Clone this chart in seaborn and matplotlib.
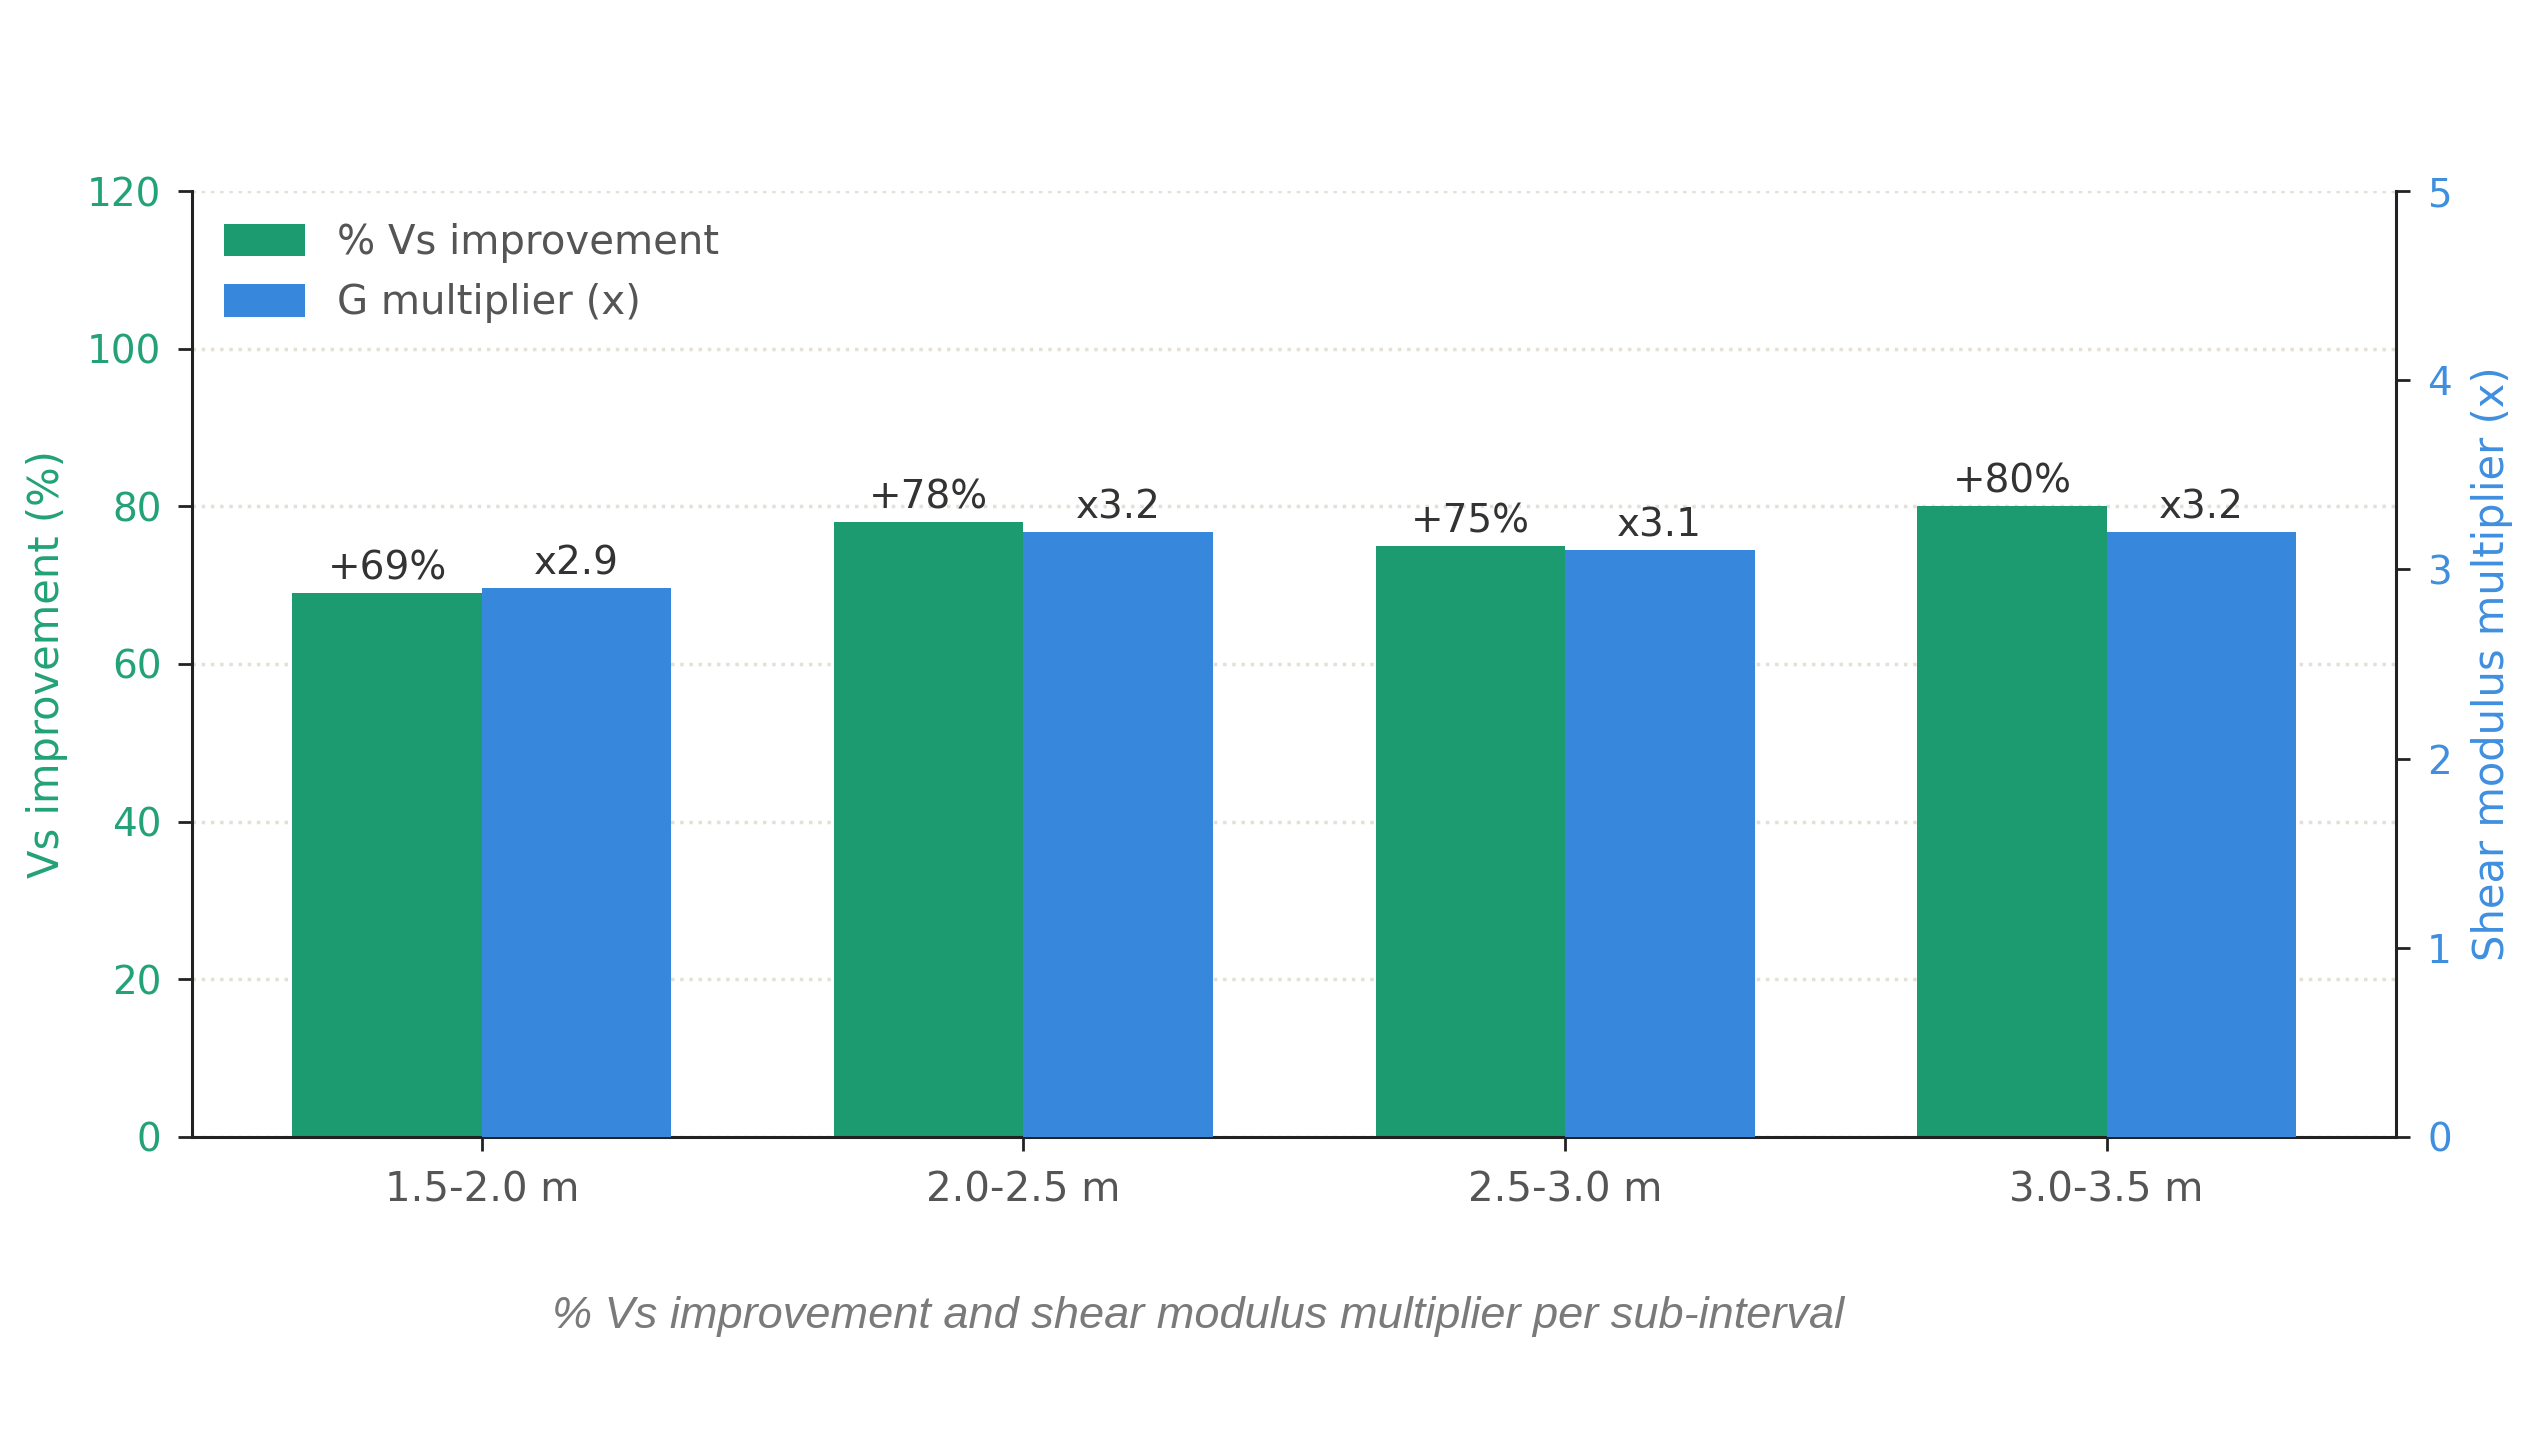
import matplotlib
matplotlib.use("Agg")
import matplotlib.pyplot as plt
import pandas as pd
import seaborn as sns

# data
intervals = ["1.5-2.0 m", "2.0-2.5 m", "2.5-3.0 m", "3.0-3.5 m"]
vs_improvement = [69, 78, 75, 80]          # % Vs improvement (left axis)
g_multiplier = [2.9, 3.2, 3.1, 3.2]        # shear modulus multiplier (right axis)

series = ["% Vs improvement", "G multiplier (x)"]
green = "#1b9b6f"
blue = "#3787dc"
palette = {series[0]: green, series[1]: blue}

df_vs = pd.DataFrame({"interval": intervals, "value": vs_improvement, "series": series[0]})
df_g = pd.DataFrame({"interval": intervals, "value": g_multiplier, "series": series[1]})


def real_container(a):
    """seaborn may leave empty containers for the missing hue level"""
    for c in a.containers:
        if len(c) and all(p is not None for p in c):
            return c


sns.set_theme(style="white")
plt.rcParams["font.family"] = ["DejaVu Sans"]

fig = plt.figure(figsize=(25.44, 14.31), dpi=100)
ax = fig.add_axes([0.0755, 0.2055, 0.8665, 0.661])
ax2 = ax.twinx()

sns.barplot(data=df_vs, x="interval", y="value", hue="series", hue_order=series,
            palette=palette, width=0.7, dodge=True, legend=False, ax=ax,
            saturation=1, edgecolor="none")
sns.barplot(data=df_g, x="interval", y="value", hue="series", hue_order=series,
            palette=palette, width=0.7, dodge=True, legend=False, ax=ax2,
            saturation=1, edgecolor="none")

ax.set_xlim(-0.535, 3.535)
ax.set_ylim(0, 120)
ax.set_yticks(range(0, 121, 20))
ax2.set_ylim(0, 5)
ax2.set_yticks(range(0, 6))

bars_vs = real_container(ax)
bars_g = real_container(ax2)

# value labels on top of the bars
ax.bar_label(bars_vs, labels=[f"+{v}%" for v in vs_improvement],
             padding=4, fontsize=28, color="#333333")
ax2.bar_label(bars_g, labels=[f"x{v}" for v in g_multiplier],
              padding=4, fontsize=28, color="#333333")

# grid from the left axis only
ax.yaxis.grid(True, color="#e4e0d6", linestyle=":", linewidth=2.5)
ax.set_axisbelow(True)
ax2.grid(False)

ax.set_xlabel("")
ax2.set_xlabel("")
ax.set_ylabel("Vs improvement (%)", color="#22a276", fontsize=30, labelpad=14)
ax2.set_ylabel("Shear modulus multiplier (x)", color="#3f8fe0", fontsize=30, labelpad=14)

for a in (ax, ax2):
    a.spines["top"].set_visible(False)
    for s in a.spines.values():
        s.set_color("#222222")
        s.set_linewidth(2.2)
ax.spines["right"].set_visible(False)
ax2.spines["left"].set_visible(False)
ax2.spines["bottom"].set_visible(False)

ax.tick_params(axis="y", left=True, direction="out", length=10, width=2,
               color="#222222", labelcolor="#22a276", labelsize=28, pad=12)
ax.tick_params(axis="x", bottom=True, direction="out", length=10, width=2,
               color="#222222", labelcolor="#555555", labelsize=29, pad=14)
ax2.tick_params(axis="y", right=True, direction="out", length=10, width=2,
                color="#222222", labelcolor="#3f8fe0", labelsize=28, pad=12)

handles = [bars_vs[0], bars_g[0]]
ax.legend(handles, series, loc="upper left", frameon=False, fontsize=29,
          labelcolor="#555555", bbox_to_anchor=(0.0, 1.0), borderaxespad=0.4,
          handletextpad=0.8, handleheight=0.85)

fig.text(0.471, 0.080, "% Vs improvement and shear modulus multiplier per sub-interval",
         ha="center", va="center", fontsize=32.5, style="italic",
         family="Liberation Sans", color="#7a7a7a")

fig.savefig("out.png", dpi=100)
